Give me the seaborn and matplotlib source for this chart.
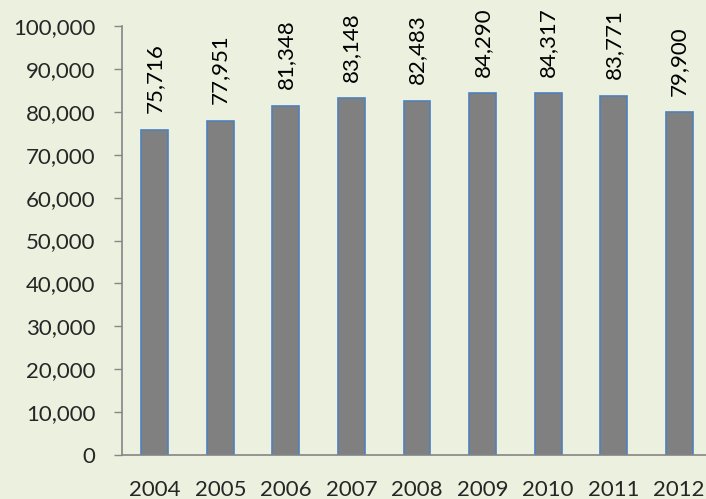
import matplotlib
matplotlib.use("Agg")
import matplotlib.pyplot as plt
import matplotlib.ticker as mticker
import seaborn as sns
import pandas as pd
import numpy as np

# Data
years = ["2004", "2005", "2006", "2007", "2008", "2009", "2010", "2011", "2012"]
values = [75716, 77951, 81348, 83148, 82483, 84290, 84317, 83771, 79900]

bg = "#EBF1DE"
axis_grey = "#868686"

sns.set_style("white")
plt.rcParams["font.family"] = ["Lato", "DejaVu Sans"]

df = pd.DataFrame({"Year": years, "Value": values})

fig = plt.figure(figsize=(7.06, 4.99), dpi=100, facecolor=bg)
ax = fig.add_axes([0.1728, 0.088, 0.8357, 0.860])
ax.set_facecolor(bg)

sns.barplot(data=df, x="Year", y="Value", color="#808080", saturation=1,
            width=0.41, edgecolor="#4F81BD", linewidth=1.2, ax=ax)

# Value labels above bars, rotated
labels = [f"{v:,}" for v in values]
ax.bar_label(ax.containers[0], labels=labels, rotation=90, padding=12,
             fontsize=16, color="black")

ax.set_ylim(0, 100000)
ax.set_xlim(-0.5, len(years) - 0.5)
ax.yaxis.set_major_locator(mticker.MultipleLocator(10000))
ax.yaxis.set_major_formatter(mticker.FuncFormatter(lambda v, p: f"{int(v):,}"))

# tick marks between categories on x
ax.set_xticks(np.arange(-0.5, len(years), 1.0), minor=True)
ax.tick_params(axis="x", which="minor", length=5, width=1, color=axis_grey, direction="out")
ax.tick_params(axis="x", which="major", length=0, pad=18, labelsize=16)
ax.tick_params(axis="y", which="major", length=6, width=1, color=axis_grey,
               direction="out", pad=13, labelsize=16, left=True)

for side in ["top", "right"]:
    ax.spines[side].set_visible(False)
for side in ["left", "bottom"]:
    ax.spines[side].set_color(axis_grey)
    ax.spines[side].set_linewidth(1.2)

ax.set_xlabel("")
ax.set_ylabel("")
ax.grid(False)

fig.savefig("out.png", dpi=100, facecolor=bg)
